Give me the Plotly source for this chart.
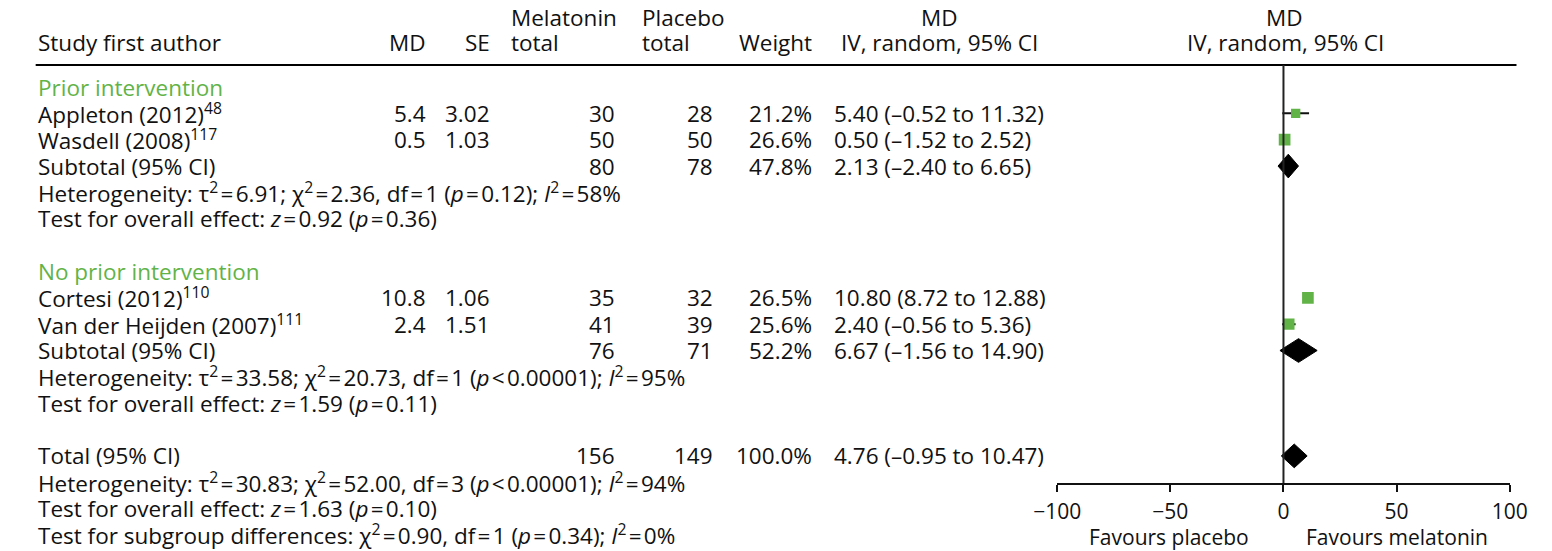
import plotly.graph_objects as go

# ---------------- data ----------------
group_names = ["Prior intervention", "No prior intervention"]

study_names = ["Appleton (2012)", "Wasdell (2008)", "Cortesi (2012)", "Van der Heijden (2007)"]
study_refs = ["48", "117", "110", "111"]
study_group = [0, 0, 1, 1]
study_md = [5.4, 0.5, 10.8, 2.4]
study_se = [3.02, 1.03, 1.06, 1.51]
melatonin_n = [30, 50, 35, 41]
placebo_n = [28, 50, 32, 39]
study_weight = [21.2, 26.6, 26.5, 25.6]
study_ci_lo = [-0.52, -1.52, 8.72, -0.56]
study_ci_hi = [11.32, 2.52, 12.88, 5.36]

sub_md = [2.13, 6.67]
sub_ci_lo = [-2.40, -1.56]
sub_ci_hi = [6.65, 14.90]
sub_melatonin_n = [80, 76]
sub_placebo_n = [78, 71]
sub_weight = [47.8, 52.2]
sub_tau2 = ["6.91", "33.58"]
sub_chi2 = ["2.36", "20.73"]
sub_df = ["1", "1"]
sub_p_het = ["= 0.12", "< 0.00001"]
sub_i2 = ["58", "95"]
sub_z = ["0.92", "1.59"]
sub_p = ["0.36", "0.11"]

total_md = 4.76
total_ci_lo = -0.95
total_ci_hi = 10.47
total_melatonin_n = 156
total_placebo_n = 149
total_weight = 100.0
total_tau2, total_chi2, total_df, total_p_het, total_i2 = "30.83", "52.00", "3", "< 0.00001", "94"
total_z, total_p = "1.63", "0.10"
subgroup_chi2, subgroup_df, subgroup_p, subgroup_i2 = "0.90", "1", "0.34", "0"

x_ticks = [-100, -50, 0, 50, 100]

# ---------------- layout constants ----------------
W, H = 1552, 551
ROW0_PX, PITCH = 87.0, 26.35          # pixel centre of the first table row, row pitch
AXIS_PX = 483.0                        # pixel position of the x axis line
GREEN = "#62b347"
TXT = "#111111"
FONT = "Open Sans"
FS = 22.5                              # table text
FS_AX = 21                             # axis text
TS = "\u200a"                          # hair space around = and <


def row_px(row):
    return ROW0_PX + row * PITCH


def row_of(px):
    return (px - ROW0_PX) / PITCH


def xp(px):
    return px / W


def yp(px):
    return 1 - px / H


def fmt_num(v, nd):
    return f"{v:.{nd}f}".replace("-", "–")


def ci_text(m, lo, hi):
    return f"{fmt_num(m, 2)} ({fmt_num(lo, 2)} to {fmt_num(hi, 2)})"


def eq(op="="):
    return f"{TS}{op}{TS}"


def p_expr(s):
    op, val = s.split(" ")
    op = "&lt;" if op == "<" else op
    return f"<i>p</i>{eq(op)}{val}"


ann = []


def text_px(px_x, px_y, s, anchor="left", color=TXT, size=FS):
    ann.append(dict(x=xp(px_x), xref="paper", y=yp(px_y), yref="paper", text=s,
                    showarrow=False, xanchor=anchor, yanchor="middle",
                    font=dict(family=FONT, size=size, color=color)))


def text(px_x, row, s, anchor="left", color=TXT, size=FS):
    text_px(px_x, row_px(row), s, anchor, color, size)


# column positions (pixels)
C_STUDY = 12
C_MD = 415
C_SE = 481
C_MEL_HDR = 499
C_MEL = 609
C_PLA_HDR = 633
C_PLA = 710
C_W = 812
C_CI = 830
C_CI_MID = 941

# ---------------- header ----------------
H1, H2 = 17, 43
text_px(C_STUDY, H2, "Study first author")
text_px(C_MD, H2, "MD", "right")
text_px(C_SE, H2, "SE", "right")
text_px(C_MEL_HDR, H1, "Melatonin")
text_px(C_MEL_HDR, H2, "total")
text_px(C_PLA_HDR, H1, "Placebo")
text_px(C_PLA_HDR, H2, "total")
text_px(C_W, H2, "Weight", "right")
text_px(C_CI_MID, H1, "MD", "center")
text_px(C_CI_MID, H2, "IV, random, 95% CI", "center")
text_px(1296, H1, "MD", "center")
text_px(1297, H2, "IV, random, 95% CI", "center")
rule_row = row_of(65)

# ---------------- table rows ----------------
study_rows = []
sub_rows = []
row = 0
for g, gname in enumerate(group_names):
    text(C_STUDY, row, gname, color=GREEN)
    row += 1
    for i in [k for k in range(len(study_names)) if study_group[k] == g]:
        text(C_STUDY, row, f"{study_names[i]}<sup>{study_refs[i]}</sup>")
        text(C_MD, row, f"{study_md[i]:.1f}", "right")
        text(C_SE, row, f"{study_se[i]:.2f}", "right")
        text(C_MEL, row, str(melatonin_n[i]), "right")
        text(C_PLA, row, str(placebo_n[i]), "right")
        text(C_W, row, f"{study_weight[i]:.1f}%", "right")
        text(C_CI, row, ci_text(study_md[i], study_ci_lo[i], study_ci_hi[i]))
        study_rows.append(row)
        row += 1
    text(C_STUDY, row, "Subtotal (95% CI)")
    text(C_MEL, row, str(sub_melatonin_n[g]), "right")
    text(C_PLA, row, str(sub_placebo_n[g]), "right")
    text(C_W, row, f"{sub_weight[g]:.1f}%", "right")
    text(C_CI, row, ci_text(sub_md[g], sub_ci_lo[g], sub_ci_hi[g]))
    sub_rows.append(row)
    row += 1
    text(C_STUDY, row,
         f"Heterogeneity: τ<sup>2</sup>{eq()}{sub_tau2[g]}; χ<sup>2</sup>{eq()}{sub_chi2[g]}, "
         f"df{eq()}{sub_df[g]} ({p_expr(sub_p_het[g])}); <i>I</i><sup>2</sup>{eq()}{sub_i2[g]}%")
    row += 1
    text(C_STUDY, row,
         f"Test for overall effect: <i>z</i>{eq()}{sub_z[g]} ({p_expr('= ' + sub_p[g])})")
    row += 2

total_row = row
text(C_STUDY, row, "Total (95% CI)")
text(C_MEL, row, str(total_melatonin_n), "right")
text(C_PLA, row, str(total_placebo_n), "right")
text(C_W, row, f"{total_weight:.1f}%", "right")
text(C_CI, row, ci_text(total_md, total_ci_lo, total_ci_hi))
row += 1
text(C_STUDY, row,
     f"Heterogeneity: τ<sup>2</sup>{eq()}{total_tau2}; χ<sup>2</sup>{eq()}{total_chi2}, "
     f"df{eq()}{total_df} ({p_expr(total_p_het)}); <i>I</i><sup>2</sup>{eq()}{total_i2}%")
row += 1
text(C_STUDY, row, f"Test for overall effect: <i>z</i>{eq()}{total_z} ({p_expr('= ' + total_p)})")
row += 1
text(C_STUDY, row,
     f"Test for subgroup differences: χ<sup>2</sup>{eq()}{subgroup_chi2}, df{eq()}{subgroup_df} "
     f"({p_expr('= ' + subgroup_p)}); <i>I</i><sup>2</sup>{eq()}{subgroup_i2}%")

# axis captions
text_px(1177, 537, "Favours placebo", "center", size=FS_AX)
text_px(1411, 537, "Favours melatonin", "center", size=FS_AX)

# ---------------- forest marks ----------------
fig = go.Figure()

# confidence-interval whiskers (drawn first so squares sit on top)
fig.add_trace(go.Scatter(
    x=study_md, y=study_rows, mode="markers",
    marker=dict(size=1, color="rgba(0,0,0,0)"),
    error_x=dict(type="data", symmetric=False,
                 array=[h - m for h, m in zip(study_ci_hi, study_md)],
                 arrayminus=[m - l for m, l in zip(study_md, study_ci_lo)],
                 color="#111111", thickness=2, width=0),
    hoverinfo="skip"))

# study estimates: squares sized by weight
fig.add_trace(go.Scatter(
    x=study_md, y=study_rows, mode="markers",
    marker=dict(symbol="square", color=GREEN, opacity=1,
                size=[w * 0.44 for w in study_weight], line=dict(width=0)),
    hoverinfo="skip"))

# pooled estimates as diamonds
DH = 0.45
pooled = list(zip(sub_md, sub_ci_lo, sub_ci_hi, sub_rows)) + [(total_md, total_ci_lo, total_ci_hi, total_row)]
for m, lo, hi, r in pooled:
    fig.add_trace(go.Scatter(
        x=[lo, m, hi, m, lo], y=[r, r - DH, r, r + DH, r],
        mode="lines", fill="toself", fillcolor="#000000",
        line=dict(color="#000000", width=1), hoverinfo="skip"))

y_bottom = row_of(AXIS_PX)
y_top = row_of(0)

shapes = [
    # header rule
    dict(type="line", xref="paper", yref="y", x0=xp(12), x1=xp(1534),
         y0=rule_row, y1=rule_row, line=dict(color="#000000", width=2.2)),
    # line of no effect
    dict(type="line", xref="x", yref="y", x0=0, x1=0, y0=rule_row, y1=y_bottom,
         line=dict(color="#222222", width=2)),
]

fig.update_layout(
    width=W, height=H,
    margin=dict(l=0, r=0, t=0, b=0),
    paper_bgcolor="white", plot_bgcolor="white",
    showlegend=False,
    annotations=ann, shapes=shapes,
    xaxis=dict(domain=[xp(1062), xp(1527)], range=[-100, 100],
               tickvals=x_ticks, ticks="outside", ticklen=7, tickwidth=2,
               tickcolor="#111111", showline=True, linecolor="#111111", linewidth=2,
               showgrid=False, zeroline=False, ticklabelstandoff=2,
               tickfont=dict(family=FONT, size=FS_AX, color=TXT)),
    yaxis=dict(domain=[1 - AXIS_PX / H, 1], range=[y_bottom, y_top],
               visible=False, showgrid=False, zeroline=False),
)

fig.write_html("out.html")
